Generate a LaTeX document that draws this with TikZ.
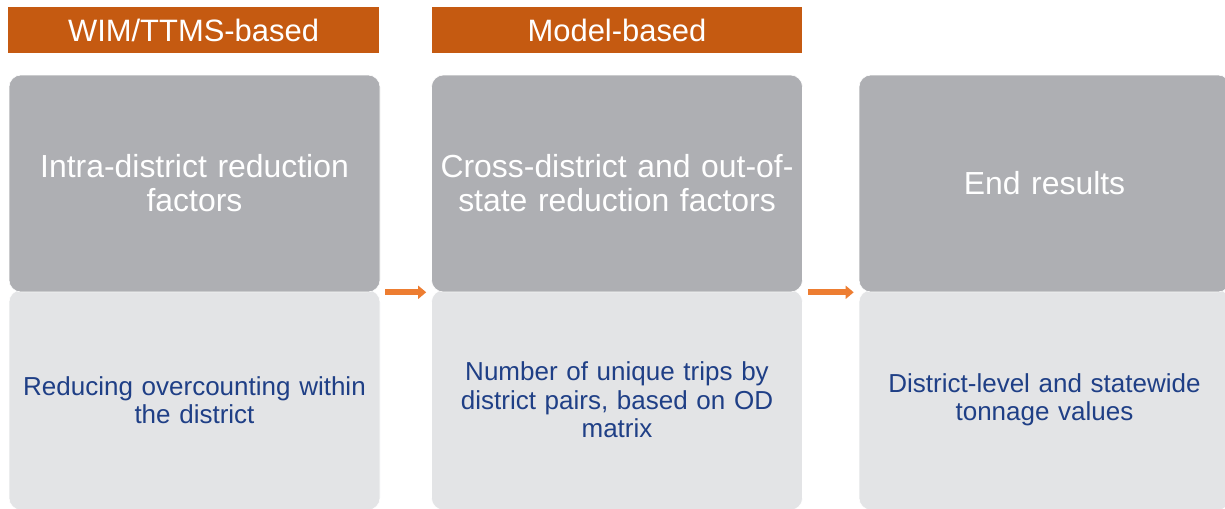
\documentclass[tikz,border=0pt]{standalone}
\usepackage{fontspec}
\setmainfont{Liberation Sans}
\usetikzlibrary{positioning}
\usetikzlibrary{arrows.meta}

\definecolor{hdrorange}{HTML}{C55A11}
\definecolor{arrorange}{HTML}{ED7D31}
\definecolor{topgray}{HTML}{AEAFB3}
\definecolor{botgray}{HTML}{E3E4E6}
\definecolor{txtblue}{HTML}{1F3F86}

\begin{document}
\begin{tikzpicture}[
		hdr/.style={fill=hdrorange, text=white, minimum height=1.15cm, inner sep=0pt,
			font=\fontsize{22}{24}\selectfont},
		topbox/.style={fill=topgray, draw=white, thin, rounded corners=0.3cm, text=white,
			inner xsep=0pt, minimum width=9.275cm, minimum height=5.425cm, text width=9.2cm,
			align=center, font=\fontsize{22.7}{24.2}\selectfont},
		botbox/.style={fill=botgray, draw=white, thin, rounded corners=0.3cm, text=txtblue,
			inner xsep=0pt, minimum width=9.275cm, minimum height=5.5cm, text width=9.0cm,
			align=center, font=\fontsize{18.5}{20.2}\selectfont},
		flow/.style={arrorange, line width=0.15cm, shorten <=0.125cm, shorten >=0.125cm,
			-{Triangle[length=0.2cm, width=0.32cm]}}
	]
	\clip (0,0) rectangle (30.625,-12.7);
	\useasboundingbox (0,0) rectangle (30.625,-12.7);
	% headers
	\node[hdr, minimum width=9.275cm] (hdrwim) at (4.8375,-0.75) {WIM/TTMS-based};
	\node[hdr, minimum width=9.25cm] (hdrmodel) at (15.425,-0.75) {Model-based};
	% lower boxes first, upper boxes lie over them
	\node[botbox] (bot1) at ( 4.8625,-10.0) {Reducing overcounting within\\the district};
	\node[botbox] (bot2) at (15.425 ,-10.0) {Number of unique trips by\\district pairs, based on OD\\matrix};
	\node[botbox] (bot3) at (26.1125,-10.0) {District-level and statewide\\tonnage values};
	\node[topbox] (top1) at ( 4.8625,-4.5875) {Intra-district reduction\\factors};
	\node[topbox] (top2) at (15.425 ,-4.5875) {Cross-district and out-of-\\state reduction factors};
	\node[topbox] (top3) at (26.1125,-4.5875) {End results};
	% arrows
	\draw[flow] (top1.south east) -- (top2.south west);
	\draw[flow] (top2.south east) -- (top3.south west);
\end{tikzpicture}
\end{document}
